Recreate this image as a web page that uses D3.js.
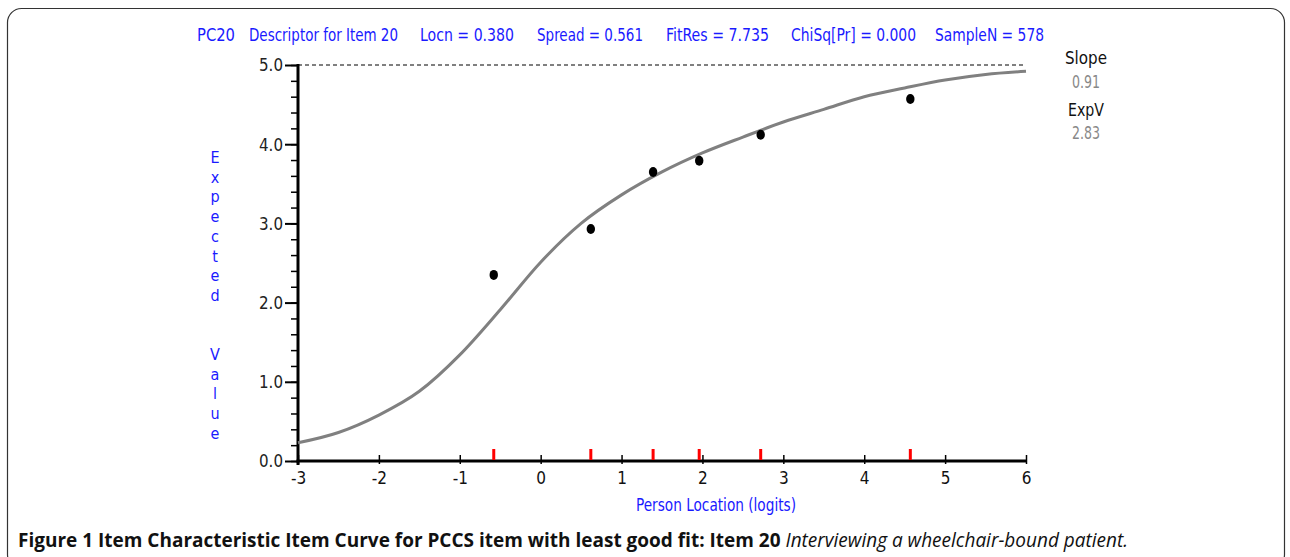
<!DOCTYPE html>
<html>
<head>
<meta charset="utf-8">
<script src="https://cdn.jsdelivr.net/npm/d3@7"></script>
<style>
  body { margin: 0; background: #fff; }
  svg text { font-family: "Liberation Sans Narrow", "DejaVu Sans Condensed", "Liberation Sans", sans-serif; }
</style>
</head>
<body>
<div id="app"></div>
<script>
// class interval locations (logits) and observed means
const intervalLocs = [-0.58, 0.62, 1.39, 1.96, 2.72, 4.57];
const observed = [2.35, 2.93, 3.65, 3.79, 4.12, 4.57];

// expected value curve
const curveX = [-3, -2.5, -2, -1.5, -1, -0.5, 0, 0.5, 1, 1.5, 2, 2.5, 3, 3.5, 4, 4.5, 5, 5.5, 6];
const curveY = [0.23, 0.36, 0.58, 0.88, 1.34, 1.91, 2.51, 3.0, 3.36, 3.65, 3.89, 4.09, 4.28, 4.44, 4.6, 4.71, 4.81, 4.88, 4.92];

const xTicks = [-3, -2, -1, 0, 1, 2, 3, 4, 5, 6];
const yTicks = [0, 1, 2, 3, 4, 5];
const headerItems = ["PC20", "Descriptor for Item 20", "Locn = 0.380", "Spread = 0.561", "FitRes = 7.735", "ChiSq[Pr] = 0.000", "SampleN = 578"];
const headerX = [197, 249, 420, 537, 666, 791, 935];
const headerW = [38, 149, 94, 106, 103, 125, 109];
const yLabel = "Expected  Value";

const W = 1290, H = 557;
const svg = d3.select("#app").append("svg")
  .attr("width", W).attr("height", H);

// 外枠
svg.append("rect")
  .attr("x", 7.5).attr("y", 8.5)
  .attr("width", 1277).attr("height", 560)
  .attr("rx", 14)
  .attr("fill", "none").attr("stroke", "#333").attr("stroke-width", 1.2);

const x = d3.scaleLinear().domain([-3, 6]).range([298, 1026]);
const y = d3.scaleLinear().domain([0, 5]).range([461, 65]);

// header
svg.append("g").selectAll("text")
  .data(headerItems)
  .join("text")
  .attr("x", (d, i) => headerX[i])
  .attr("y", 41)
  .attr("fill", "#1a1aff")
  .attr("font-size", 18)
  .attr("textLength", (d, i) => headerW[i])
  .attr("lengthAdjust", "spacingAndGlyphs")
  .text(d => d);

// dashed max line
svg.append("line")
  .attr("x1", x(-3)).attr("x2", x(6))
  .attr("y1", y(5)).attr("y2", y(5))
  .attr("stroke", "#000").attr("stroke-width", 1)
  .attr("stroke-dasharray", "4,3");

// y axis
const yAxis = svg.append("g").attr("transform", `translate(${x(-3)},0)`);
yAxis.call(d3.axisLeft(y).tickValues(d3.range(0, 5.01, 0.2)).tickSize(7).tickFormat(""))
  .call(g => g.select(".domain").remove());
yAxis.selectAll(".tick line").attr("stroke", "#000").attr("stroke-width", 1.5).attr("x2", 1).attr("x1", -7);
yAxis.append("g").call(d3.axisLeft(y).tickValues(yTicks).tickSize(13).tickFormat(d3.format(".1f")))
  .call(g => g.select(".domain").remove())
  .call(g => g.selectAll("line").attr("stroke", "#000").attr("stroke-width", 2))
  .call(g => g.selectAll("text").attr("font-size", 17).attr("fill", "#222").attr("x", -15).attr("dy", "0.35em")
    .attr("textLength", 24).attr("lengthAdjust", "spacingAndGlyphs"));
yAxis.append("line")
  .attr("y1", y(5) - 1).attr("y2", y(0) + 4)
  .attr("stroke", "#000").attr("stroke-width", 3);

// x axis
const xAxis = svg.append("g").attr("transform", `translate(0,${y(0)})`);
xAxis.call(d3.axisBottom(x).tickValues(xTicks).tickSize(3).tickFormat(d3.format("d")))
  .call(g => g.select(".domain").remove())
  .call(g => g.selectAll("line").attr("stroke", "#000").attr("stroke-width", 1.5).attr("y1", -6).attr("y2", 3))
  .call(g => g.selectAll("text").attr("font-size", 17).attr("fill", "#111").attr("y", 11).attr("dy", "0.71em").text(d => d < 0 ? "-" + Math.abs(d) : d));
xAxis.append("line")
  .attr("x1", x(-3) - 1.5).attr("x2", x(6))
  .attr("stroke", "#000").attr("stroke-width", 3);

// red class interval ticks
svg.append("g").selectAll("line")
  .data(intervalLocs)
  .join("line")
  .attr("x1", d => x(d)).attr("x2", d => x(d))
  .attr("y1", y(0) - 12).attr("y2", y(0) - 1)
  .attr("stroke", "#ff0000").attr("stroke-width", 3);

// expected value curve
const line = d3.line()
  .x(d => x(d[0]))
  .y(d => y(d[1]))
  .curve(d3.curveMonotoneX);
svg.append("path")
  .datum(d3.zip(curveX, curveY))
  .attr("d", line)
  .attr("fill", "none")
  .attr("stroke", "#808080")
  .attr("stroke-width", 3);

// observed means
svg.append("g").selectAll("ellipse")
  .data(d3.zip(intervalLocs, observed))
  .join("ellipse")
  .attr("cx", d => x(d[0]))
  .attr("cy", d => y(d[1]))
  .attr("rx", 4.2).attr("ry", 5)
  .attr("fill", "#000");

// axis titles
svg.append("g").selectAll("text")
  .data(yLabel.split(""))
  .join("text")
  .attr("x", 215)
  .attr("y", (d, i) => 163 + i * 19.7)
  .attr("text-anchor", "middle")
  .attr("font-size", 16)
  .attr("fill", "#1a1aff")
  .text(d => d);

svg.append("text")
  .attr("x", 716).attr("y", 511)
  .attr("text-anchor", "middle")
  .attr("font-size", 18)
  .attr("fill", "#1a1aff")
  .attr("textLength", 160).attr("lengthAdjust", "spacingAndGlyphs")
  .text("Person Location (logits)");

// right side stats
const stats = [["Slope", 58, "#111", 42], ["0.91", 82, "#888", 28], ["ExpV", 110, "#111", 36], ["2.83", 133, "#888", 28]];
svg.append("g").selectAll("text")
  .data(stats)
  .join("text")
  .attr("x", d => 1086 - d[3] / 2).attr("y", d => d[1])
  .attr("dy", "0.35em")
  .attr("font-size", 17)
  .attr("fill", d => d[2])
  .attr("textLength", d => d[3]).attr("lengthAdjust", "spacingAndGlyphs")
  .text(d => d[0]);

// caption
const cap = svg.append("text")
  .attr("x", 18).attr("y", 547)
  .attr("font-size", 19.5)
  .attr("fill", "#111")
  .attr("textLength", 1110).attr("lengthAdjust", "spacingAndGlyphs")
  .style("font-family", "'Open Sans', 'Noto Sans', sans-serif");
cap.append("tspan").attr("font-weight", "bold")
  .text("Figure 1 Item Characteristic Item Curve for PCCS item with least good fit: Item 20 ");
cap.append("tspan").attr("font-style", "italic")
  .text("Interviewing a wheelchair-bound patient.");
</script>
</body>
</html>
